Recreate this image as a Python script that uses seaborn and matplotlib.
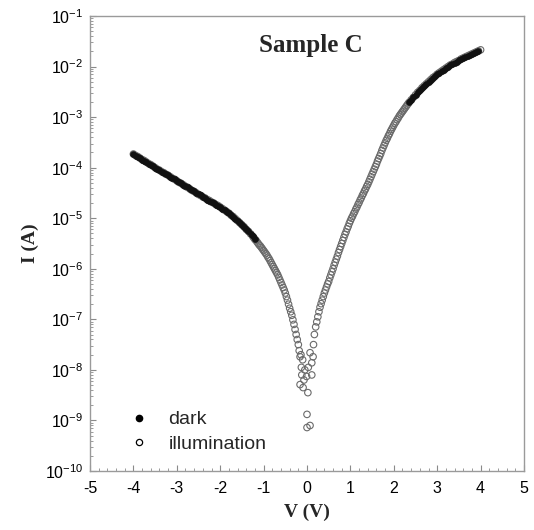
import numpy as np
import pandas as pd
import matplotlib
matplotlib.use("Agg")
import matplotlib.pyplot as plt
from matplotlib.lines import Line2D
from matplotlib.ticker import LogLocator, MultipleLocator, FixedLocator, NullFormatter
import seaborn as sns

# ---------------- data ----------------
# main I-V curve, voltage in V, log10 of current in A
V_left = [-4.00, -3.95, -3.90, -3.85, -3.80, -3.75, -3.70, -3.65, -3.60, -3.55,
          -3.50, -3.45, -3.40, -3.35, -3.30, -3.25, -3.20, -3.15, -3.10, -3.05,
          -3.00, -2.95, -2.90, -2.85, -2.80, -2.75, -2.70, -2.65, -2.60, -2.55,
          -2.50, -2.45, -2.40, -2.35, -2.30, -2.25, -2.20, -2.15, -2.10, -2.05,
          -2.00, -1.95, -1.90, -1.85, -1.80, -1.75, -1.70, -1.65, -1.60, -1.55,
          -1.50, -1.45, -1.40, -1.35, -1.30, -1.25, -1.20, -1.15, -1.10, -1.05,
          -1.00, -0.95, -0.90, -0.85, -0.80, -0.75, -0.70, -0.65, -0.60, -0.55,
          -0.50, -0.45, -0.40, -0.35, -0.30, -0.25, -0.20]
logI_left = [-3.73, -3.76, -3.78, -3.81, -3.84, -3.86, -3.89, -3.92, -3.94, -3.97,
             -4.00, -4.03, -4.05, -4.08, -4.10, -4.13, -4.15, -4.18, -4.21, -4.23,
             -4.26, -4.29, -4.31, -4.34, -4.37, -4.39, -4.42, -4.45, -4.47, -4.50,
             -4.53, -4.55, -4.58, -4.60, -4.63, -4.65, -4.68, -4.70, -4.73, -4.75,
             -4.78, -4.81, -4.84, -4.87, -4.90, -4.94, -4.97, -5.01, -5.05, -5.09,
             -5.13, -5.17, -5.22, -5.26, -5.31, -5.36, -5.42, -5.47, -5.53, -5.58,
             -5.64, -5.70, -5.77, -5.84, -5.92, -6.00, -6.08, -6.17, -6.27, -6.37,
             -6.48, -6.62, -6.78, -6.92, -7.10, -7.30, -7.50]

# extra readings between the grid points on the steep left part
V_left_mid = [-1.225, -1.175, -1.125, -1.075, -1.025, -0.975, -0.925, -0.875,
              -0.825, -0.775, -0.725, -0.675, -0.625, -0.575, -0.525, -0.475,
              -0.425, -0.375, -0.325, -0.275, -0.225]
logI_left_mid = [-5.39, -5.44, -5.50, -5.55, -5.61, -5.67, -5.73, -5.80,
                 -5.88, -5.96, -6.04, -6.12, -6.22, -6.32, -6.42, -6.55,
                 -6.70, -6.85, -7.01, -7.20, -7.40]

V_center = [-0.18, -0.16, -0.14, -0.12, -0.10, -0.09, -0.16, -0.05, -0.01, 0.02,
            0.00, 0.00, 0.07, 0.03, 0.07, 0.11, 0.11, 0.14, 0.15, 0.17, -0.13, -0.07]
logI_center = [-7.62, -7.74, -7.70, -8.10, -7.80, -8.35, -8.29, -8.00, -8.13, -8.45,
               -8.88, -9.14, -9.10, -7.95, -7.66, -7.86, -8.10, -7.74, -7.50, -7.30,
               -7.95, -8.20]

V_right = [0.20, 0.25, 0.30, 0.35, 0.40, 0.45, 0.50, 0.55, 0.60, 0.65,
           0.70, 0.75, 0.80, 0.85, 0.90, 0.95, 1.00, 1.05, 1.10, 1.15,
           1.20, 1.25, 1.30, 1.35, 1.40, 1.45, 1.50, 1.55, 1.60, 1.65,
           1.70, 1.75, 1.80, 1.85, 1.90, 1.95, 2.00, 2.05, 2.10, 2.15,
           2.20, 2.25, 2.30, 2.35, 2.40, 2.45, 2.50, 2.55, 2.60, 2.65,
           2.70, 2.75, 2.80, 2.85, 2.90, 2.95, 3.00, 3.05, 3.10, 3.15,
           3.20, 3.25, 3.30, 3.35, 3.40, 3.45, 3.50, 3.55, 3.60, 3.65,
           3.70, 3.75, 3.80, 3.85, 3.90, 3.95, 4.00]
logI_right = [-7.15, -6.95, -6.76, -6.62, -6.48, -6.36, -6.25, -6.12, -6.00, -5.87,
              -5.75, -5.62, -5.50, -5.38, -5.27, -5.16, -5.05, -4.96, -4.87, -4.78,
              -4.69, -4.60, -4.51, -4.42, -4.33, -4.23, -4.13, -4.03, -3.93, -3.82,
              -3.72, -3.61, -3.51, -3.42, -3.33, -3.24, -3.16, -3.09, -3.02, -2.95,
              -2.89, -2.83, -2.77, -2.71, -2.66, -2.61, -2.56, -2.51, -2.47, -2.42,
              -2.38, -2.34, -2.30, -2.26, -2.22, -2.19, -2.15, -2.12, -2.09, -2.06,
              -2.03, -2.00, -1.97, -1.95, -1.92, -1.90, -1.88, -1.85, -1.83, -1.81,
              -1.79, -1.77, -1.75, -1.73, -1.71, -1.69, -1.67]

# extra readings between the grid points on the steep right part
V_right_mid = [0.225, 0.275, 0.325, 0.375, 0.425, 0.475, 0.525, 0.575, 0.625, 0.675,
               0.725, 0.775, 0.825, 0.875, 0.925, 0.975, 1.025, 1.075, 1.125, 1.175,
               1.225, 1.275, 1.325, 1.375, 1.425, 1.475, 1.525, 1.575, 1.625, 1.675,
               1.725, 1.775, 1.825, 1.875, 1.925, 1.975, 2.025, 2.075, 2.125, 2.175,
               2.225, 2.275, 2.325]
logI_right_mid = [-7.05, -6.85, -6.69, -6.55, -6.42, -6.30, -6.18, -6.06, -5.93, -5.81,
                  -5.68, -5.56, -5.44, -5.32, -5.21, -5.10, -5.00, -4.91, -4.82, -4.73,
                  -4.64, -4.55, -4.46, -4.37, -4.28, -4.18, -4.08, -3.98, -3.87, -3.77,
                  -3.66, -3.56, -3.46, -3.37, -3.28, -3.20, -3.12, -3.05, -2.98, -2.92,
                  -2.86, -2.80, -2.74]

# visible extent of the dark (filled) series
dark_left_max_V = -1.20
dark_right_min_V = 2.35
dark_right_max_V = 3.95

x_ticks = [-5, -4, -3, -2, -1, 0, 1, 2, 3, 4, 5]
y_decades = [-10, -9, -8, -7, -6, -5, -4, -3, -2, -1]

# ---------------- build frames ----------------
illum_V = V_left + V_left_mid + V_center + V_right_mid + V_right
illum_logI = logI_left + logI_left_mid + logI_center + logI_right_mid + logI_right
illum = pd.DataFrame({"V": illum_V, "I": [10.0 ** v for v in illum_logI]})
main = pd.DataFrame({"V": V_left + V_right,
                     "I": [10.0 ** v for v in logI_left + logI_right]})
dark = main[(main.V <= dark_left_max_V) |
            ((main.V >= dark_right_min_V) & (main.V <= dark_right_max_V))]

# ---------------- plot ----------------
sns.set_style("white")
plt.rcParams["font.family"] = ["Liberation Sans", "DejaVu Sans"]
plt.rcParams["axes.unicode_minus"] = False

fig = plt.figure(figsize=(5.34, 5.30), dpi=100)
ax = fig.add_axes([90 / 534, 1 - 471 / 530, 434 / 534, 455 / 530])

sns.scatterplot(data=illum, x="V", y="I", ax=ax, marker="o", s=22,
                facecolors="none", edgecolor="#6a6a6a", linewidth=0.8,
                legend=False, zorder=2)
sns.scatterplot(data=dark, x="V", y="I", ax=ax, marker="o", s=18,
                color="#111111", edgecolor="#111111", linewidth=0.5,
                legend=False, zorder=3)

ax.set_yscale("log")
ax.set_xlim(-5, 5)
ax.set_ylim(1e-10, 1e-1)

ax.xaxis.set_major_locator(FixedLocator(x_ticks))
ax.set_xticklabels([str(t) for t in x_ticks])
ax.xaxis.set_minor_locator(MultipleLocator(0.2))
ax.yaxis.set_major_locator(FixedLocator([10.0 ** d for d in y_decades]))
ax.set_yticklabels([r"$\mathdefault{10^{%d}}$" % d for d in y_decades])
ax.yaxis.set_minor_locator(LogLocator(base=10, subs=np.arange(2, 10), numticks=20))
ax.yaxis.set_minor_formatter(NullFormatter())

for sp in ax.spines.values():
    sp.set_color("#9a9a9a")
    sp.set_linewidth(1.0)

ax.tick_params(axis="both", which="both", direction="in", colors="#8a8a8a",
               bottom=True, left=True, top=False, right=False, labelcolor="black")
ax.tick_params(axis="both", which="major", length=4, width=0.8, labelsize=11.5)
ax.tick_params(axis="both", which="minor", length=2.2, width=0.6)
ax.tick_params(axis="x", which="major", pad=7)
ax.tick_params(axis="y", which="major", pad=5)

ax.set_xlabel("V (V)", family=["Liberation Serif", "DejaVu Serif"],
              fontweight="bold", fontsize=14, labelpad=6)
ax.set_ylabel("I (A)", family=["Liberation Serif", "DejaVu Serif"],
              fontweight="bold", fontsize=14, labelpad=4)

ax.text(0.51, 0.935, "Sample C", transform=ax.transAxes, ha="center", va="center",
        family=["Liberation Serif", "DejaVu Serif"], fontweight="bold", fontsize=18)

handles = [
    Line2D([], [], linestyle="none", marker="o", markersize=4.5,
           markerfacecolor="black", markeredgecolor="black"),
    Line2D([], [], linestyle="none", marker="o", markersize=4.5,
           markerfacecolor="none", markeredgecolor="black", markeredgewidth=0.9),
]
ax.legend(handles, ["dark", "illumination"], loc="lower left",
          bbox_to_anchor=(0.06, 0.01), frameon=False, fontsize=14,
          handlelength=1.0, handletextpad=1.0, labelspacing=0.35, borderpad=0.2)

fig.savefig("out.png", dpi=100)
